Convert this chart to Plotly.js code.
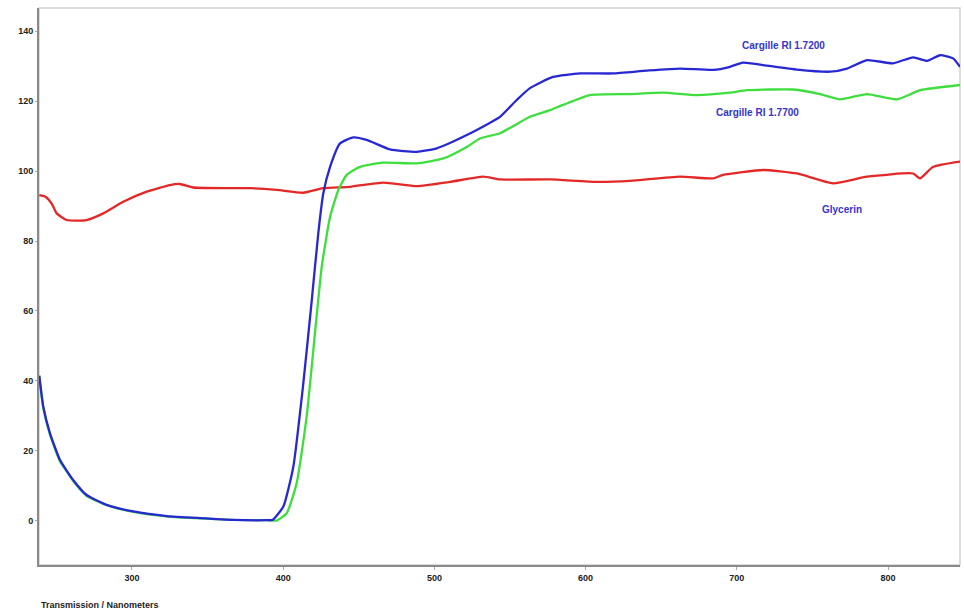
<!DOCTYPE html>
<html>
<head>
<meta charset="utf-8">
<script src="https://cdn.plot.ly/plotly-3.0.1.min.js"></script>
<style>
  html, body { margin: 0; padding: 0; background: #fff; }
  #chart { width: 964px; height: 615px; }
</style>
</head>
<body>
<div id="chart"></div>
<script>
// Wavelength (nm) and transmission values
const blueWavelength = [238.7, 241.3, 245.7, 252.4, 261.1, 270, 283.2, 300.9, 323, 345, 367, 389.1, 393,
  400.1, 406.7, 413.3, 418.9, 423.2, 426.5, 431, 437.6, 446.4, 455.2, 470.6, 488.3, 501.5, 521.4, 543.4,
  554.4, 563.2, 578.4, 596.3, 618.1, 640.6, 662.4, 684.3, 695.5, 704.1, 717.4, 739.8, 761.7, 772.9,
  786.1, 803.3, 816.6, 825.8, 834.4, 843, 847.6];
const blueValues = [41.5, 32.7, 25.1, 17.4, 11.7, 7.4, 4.6, 2.7, 1.4, 0.8, 0.3, 0.2, 0.3,
  4.1, 15.5, 39.3, 63.1, 82.2, 93.6, 101.2, 107.9, 109.6, 108.9, 106.2, 105.5, 106.5, 110.3, 115.5,
  120.3, 123.7, 126.9, 127.9, 127.9, 128.7, 129.3, 128.9, 129.8, 131, 130.3, 129, 128.4, 129.3,
  131.7, 130.8, 132.5, 131.5, 133.1, 132.2, 129.8];

const greenWavelength = [238.7, 241.3, 245.7, 252.4, 256.6, 261.1, 270, 283.2, 300.9, 323, 345, 367, 389.1, 395.7,
  402.3, 408.9, 415.5, 421, 425.5, 431, 436.5, 442, 450.8, 466.2, 488.3, 505.9, 521.4, 530.2, 543.4,
  563.2, 576.5, 585.1, 602.9, 629.4, 651.2, 673.7, 695.5, 706.8, 737.2, 755, 768.3, 786.1, 806,
  821.2, 847.6];
const greenValues = [41.3, 32.5, 24.8, 17.0, 14.3, 11.4, 7.2, 4.5, 2.6, 1.3, 0.7, 0.3, 0.2, 0.1,
  2.2, 10.8, 29.8, 53.6, 72.7, 86.9, 94.6, 98.9, 101.2, 102.4, 102.2, 103.6, 106.9, 109.3, 110.8,
  115.5, 117.4, 118.9, 121.7, 122, 122.4, 121.7, 122.4, 123.1, 123.3, 122, 120.5, 122, 120.5,
  123.1, 124.6];

const redWavelength = [238.7, 243, 247, 250.2, 256.8, 270, 281, 294.2, 309.7, 325.1, 331.7, 340.5, 364.8,
  378, 395.7, 413.3, 426.5, 444.2, 466.2, 488.3, 510.3, 532.3, 543.4, 576.5, 607.4, 629.4, 662.4,
  684.3, 690.9, 717.4, 739.8, 763.6, 786.1, 816.6, 821.2, 829.8, 847.6];
const redValues = [93.1, 92.6, 90.6, 87.9, 86, 86, 87.9, 91.2, 94.1, 96, 96.3, 95.3, 95.1,
  95.1, 94.6, 93.8, 95.1, 95.5, 96.7, 95.7, 96.9, 98.4, 97.6, 97.6, 96.9, 97.2, 98.4,
  97.9, 98.9, 100.3, 99.3, 96.5, 98.4, 99.3, 97.9, 101.2, 102.7];

const seriesNames = ["Cargille RI 1.7200", "Cargille RI 1.7700", "Glycerin"];
const xTicks = [300, 400, 500, 600, 700, 800];
const yTicks = [0, 20, 40, 60, 80, 100, 120, 140];
const xTitle = "Transmission / Nanometers";

const labelColor = "rgb(52,52,205)";
const lineStyle = (c) => ({ color: c, width: 2.3, shape: "spline", smoothing: 0.5 });
const traces = [
  { x: redWavelength, y: redValues, name: seriesNames[2], mode: "lines", line: lineStyle("rgb(228,40,40)") },
  { x: greenWavelength, y: greenValues, name: seriesNames[1], mode: "lines", line: lineStyle("rgb(62,222,62)") },
  { x: blueWavelength, y: blueValues, name: seriesNames[0], mode: "lines", line: lineStyle("rgb(40,40,210)") }
];

const tickFont = { family: "Liberation Sans, Arial, sans-serif", size: 9, color: "#222", weight: "bold" };
const annFont = { family: "Liberation Sans, Arial, sans-serif", size: 10, color: labelColor, weight: "bold" };

const layout = {
  width: 964, height: 615,
  margin: { l: 39, r: 4, t: 8, b: 50 },
  paper_bgcolor: "#fff", plot_bgcolor: "#fff",
  showlegend: false,
  xaxis: {
    range: [238.5, 847.6], tickvals: xTicks, ticktext: xTicks.map(String),
    showgrid: false, zeroline: false, showline: true, linecolor: "#8a8a8a", linewidth: 2,
    ticks: "outside", ticklen: 3, tickcolor: "#aaa", tickfont: tickFont
  },
  yaxis: {
    range: [-12.6, 146.6], tickvals: yTicks, ticktext: yTicks.map(String),
    showgrid: false, zeroline: false, showline: true, linecolor: "#8a8a8a", linewidth: 2,
    ticks: "outside", ticklen: 2, tickcolor: "#aaa", tickfont: tickFont
  },
  shapes: [
    { type: "rect", xref: "paper", yref: "paper", x0: 0, x1: 1, y0: 0, y1: 1,
      line: { color: "#cfcfcf", width: 1.5 }, layer: "below" }
  ],
  annotations: [
    { x: 731, y: 136, xref: "x", yref: "y", text: seriesNames[0], showarrow: false, font: annFont },
    { x: 714, y: 116.6, xref: "x", yref: "y", text: seriesNames[1], showarrow: false, font: annFont },
    { x: 769.6, y: 88.9, xref: "x", yref: "y", text: seriesNames[2], showarrow: false, font: annFont },
    { x: 0, y: -0.072, xref: "paper", yref: "paper", xanchor: "left", yanchor: "middle",
      text: xTitle, showarrow: false,
      font: { family: "Liberation Sans Narrow, Liberation Sans, Arial, sans-serif", size: 9, color: "#222", weight: "bold" } }
  ]
};

Plotly.newPlot("chart", traces, layout, { displayModeBar: false, staticPlot: true });
</script>
</body>
</html>
